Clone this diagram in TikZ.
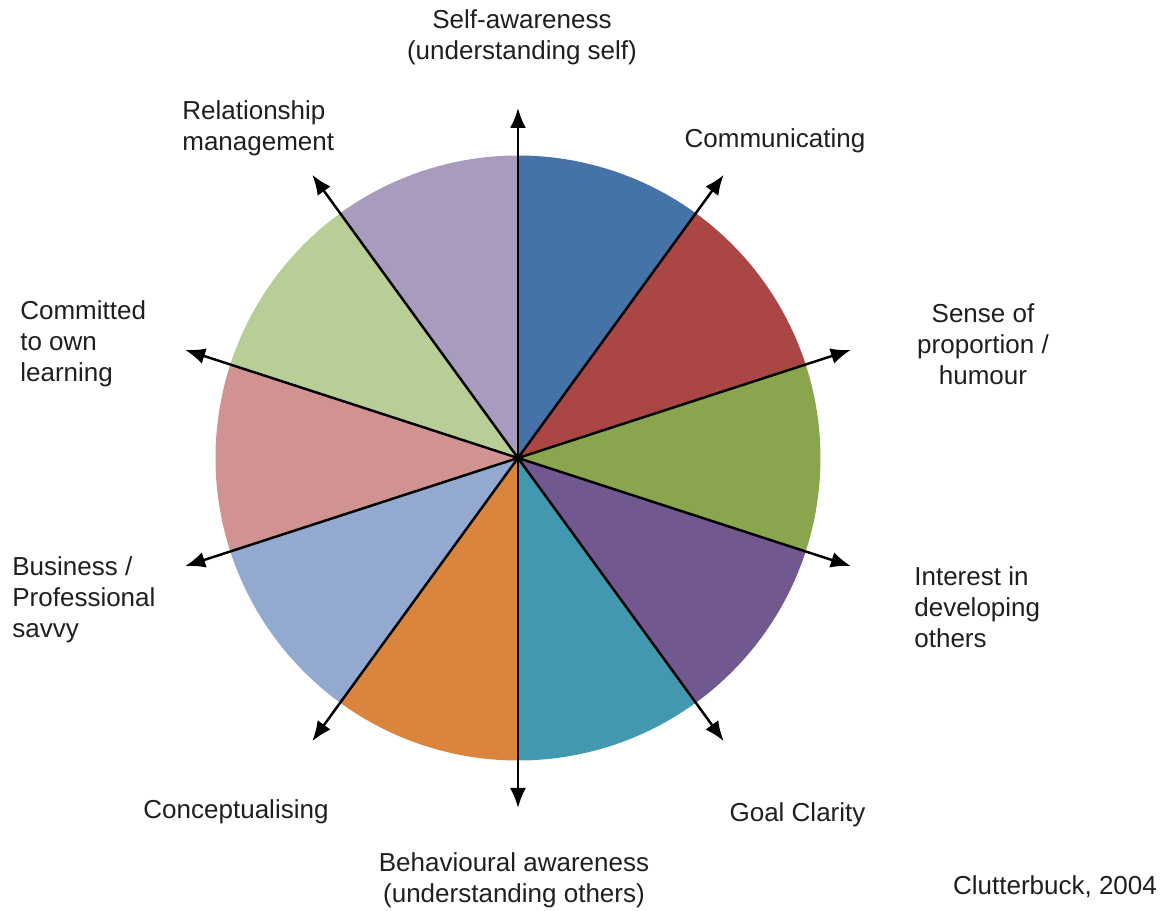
\documentclass[tikz,border=0pt]{standalone}
\usepackage{fontspec}
\setmainfont{Liberation Sans}
\usetikzlibrary{arrows.meta}
\definecolor{sBlue}{HTML}{4572A7}
\definecolor{sRed}{HTML}{AA4643}
\definecolor{sGreen}{HTML}{89A54E}
\definecolor{sPurple}{HTML}{71588F}
\definecolor{sTeal}{HTML}{4198AF}
\definecolor{sOrange}{HTML}{DB843D}
\definecolor{sLightBlue}{HTML}{93A9CF}
\definecolor{sPink}{HTML}{D19392}
\definecolor{sLightGreen}{HTML}{B9CD96}
\definecolor{sLavender}{HTML}{A99BBD}
\begin{document}
\begin{tikzpicture}
  \tikzset{ lbl/.style={font=\fontsize{14.8}{17.6}\selectfont,text=black!88,inner sep=0pt},
            axis/.style={line width=1.4pt,{Latex[length=0.4cm,width=0.32cm]}-{Latex[length=0.4cm,width=0.32cm]}},
  }
  \useasboundingbox (-10.36,-9.06) rectangle (13.10,9.16);
  \coordinate (c) at (0,0);

  % the ten slices
  \fill[sBlue]       (c) -- (90:6.05)  arc (90:54:6.05)    -- cycle;
  \fill[sRed]        (c) -- (54:6.05)  arc (54:18:6.05)    -- cycle;
  \fill[sGreen]      (c) -- (18:6.05)  arc (18:-18:6.05)   -- cycle;
  \fill[sPurple]     (c) -- (-18:6.05) arc (-18:-54:6.05)  -- cycle;
  \fill[sTeal]       (c) -- (-54:6.05) arc (-54:-90:6.05)  -- cycle;
  \fill[sOrange]     (c) -- (-90:6.05) arc (-90:-126:6.05) -- cycle;
  \fill[sLightBlue]  (c) -- (-126:6.05) arc (-126:-162:6.05) -- cycle;
  \fill[sPink]       (c) -- (-162:6.05) arc (-162:-198:6.05) -- cycle;
  \fill[sLightGreen] (c) -- (162:6.05) arc (162:126:6.05)  -- cycle;
  \fill[sLavender]   (c) -- (126:6.05) arc (126:90:6.05)   -- cycle;

  \coordinate (tA) at (90:7);
  \coordinate (tB) at (54:7);
  \coordinate (tC) at (18:7);
  \coordinate (tD) at (-18:7);
  \coordinate (tE) at (-54:7);
  \coordinate (tF) at (-90:7);
  \coordinate (tG) at (-126:7);
  \coordinate (tH) at (-162:7);
  \coordinate (tI) at (162:7);
  \coordinate (tJ) at (126:7);

  \draw[axis] (tF) -- (tA);
  \draw[axis] (tG) -- (tB);
  \draw[axis] (tH) -- (tC);
  \draw[axis] (tI) -- (tD);
  \draw[axis] (tJ) -- (tE);

  \node (self) [lbl,align=center] at (0.08,8.41) {Self-awareness\\(understanding self)};
  \node (relat) [lbl,align=left,anchor=west] at (-6.72,6.60) {Relationship\\management};
  \node (comm) [lbl] at (5.14,6.34) {Communicating};
  \node (learn) [lbl,align=left,anchor=west] at (-9.96,2.28) {Committed\\to own\\learning};
  \node (humour) [lbl,align=center] at (9.30,2.28) {Sense of\\proportion /\\humour};
  \node (savvy) [lbl,align=left,anchor=west] at (-10.12,-2.84) {Business /\\Professional\\savvy};
  \node (devel) [lbl,align=left,anchor=west] at (7.92,-2.98) {Interest in\\developing\\others};
  \node (concept) [lbl] at (-5.64,-7.08) {Conceptualising};
  \node (goal) [lbl] at (5.59,-7.14) {Goal Clarity};
  \node (behav) [lbl,align=center] at (-0.08,-8.45) {Behavioural awareness\\(understanding others)};
  \node (source) [lbl] at (10.74,-8.58) {Clutterbuck, 2004};
\end{tikzpicture}
\end{document}
